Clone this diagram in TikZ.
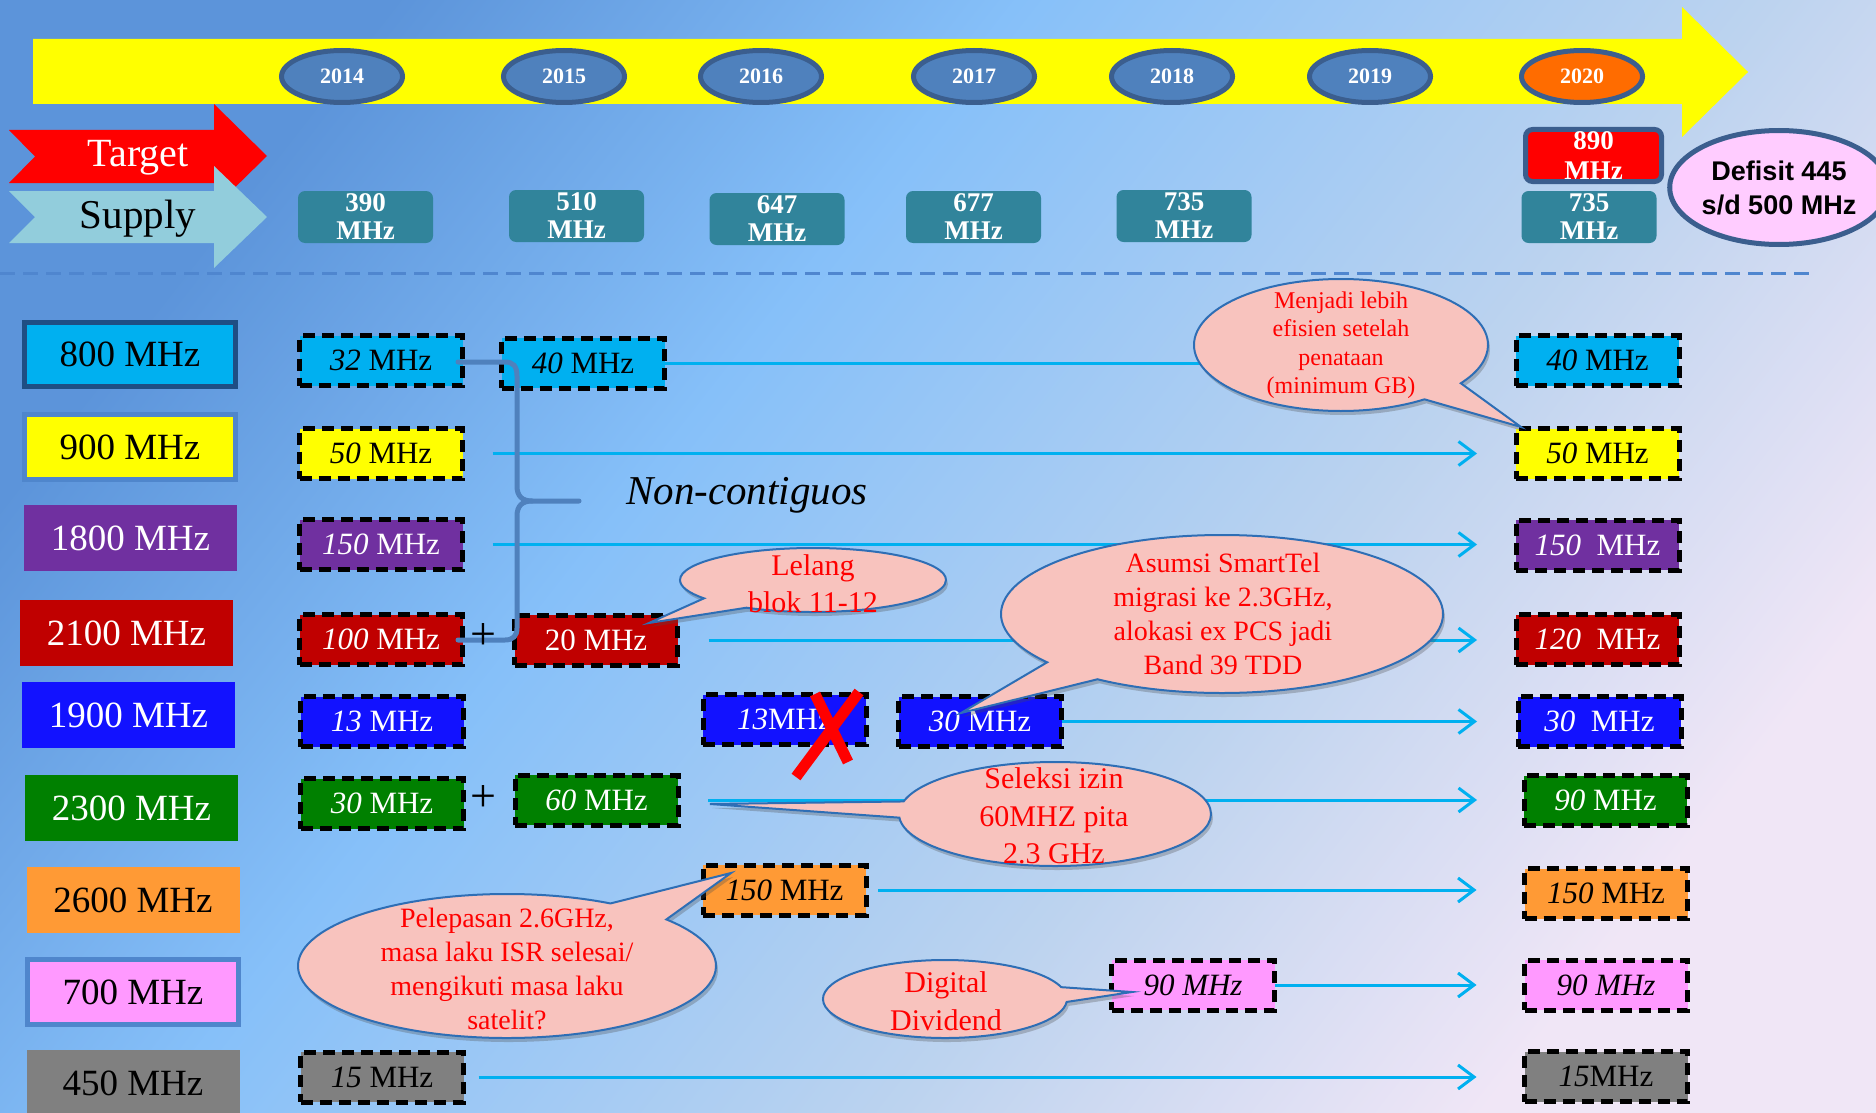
\documentclass[tikz,border=0pt]{standalone}
\usepackage{fontspec}
\setmainfont{Liberation Serif}
\setsansfont{Liberation Sans}
\usetikzlibrary{shapes.geometric,shapes.callouts,arrows.meta,shadows}
\definecolor{cCyan}{HTML}{00B0F0}
\definecolor{cYel}{HTML}{FFFF00}
\definecolor{cPur}{HTML}{7030A0}
\definecolor{cRed}{HTML}{C00000}
\definecolor{cBlue}{HTML}{1212FF}
\definecolor{cGreen}{HTML}{008000}
\definecolor{cOrange}{HTML}{FF9A35}
\definecolor{cPink}{HTML}{FF99FF}
\definecolor{cGray}{HTML}{808080}
\definecolor{tealbox}{HTML}{31849B}
\definecolor{yearfill}{HTML}{4F81BD}
\definecolor{yearedge}{HTML}{3B5E8E}
\definecolor{supplyarr}{HTML}{92CDDC}
\definecolor{callfill}{HTML}{F8C3BE}
\definecolor{calledge}{HTML}{2E6EB5}
\definecolor{bordDark}{HTML}{1F4E84}
\definecolor{bordLight}{HTML}{4F86CC}
\definecolor{braceC}{HTML}{4F81BD}
\definecolor{defFill}{HTML}{FFCCFF}
\definecolor{sepC}{HTML}{4F86CF}
\definecolor{bgA}{HTML}{5C94DA}
\definecolor{bgB}{HTML}{86C0F9}
\definecolor{bgD}{HTML}{BCD3EF}
\definecolor{bgC}{HTML}{F0E6F6}
\pgfdeclarehorizontalshading{bgshade}{100bp}{color(0bp)=(bgA); color(25bp)=(bgA); color(41bp)=(bgB); color(60bp)=(bgD); color(75bp)=(bgC); color(100bp)=(bgC)}
\begin{document}
\begin{tikzpicture}[x=1pt,y=-1pt,
  every node/.style={inner sep=0pt,outer sep=0pt},
  rowlab/.style={rectangle,minimum width=213pt,minimum height=66pt,font=\fontsize{37}{37}\selectfont},
  databox/.style={rectangle,draw=black,line width=5pt,dash pattern=on 12pt off 7pt,minimum width=163pt,minimum height=50pt,font=\fontsize{31}{31}\selectfont},
  dcyan/.style={databox,fill=cCyan,text=black},
  dyel/.style={databox,fill=cYel,text=black},
  dpur/.style={databox,fill=cPur,text=white},
  dred/.style={databox,fill=cRed,text=white},
  dblue/.style={databox,fill=cBlue,text=white},
  dgreen/.style={databox,fill=cGreen,text=white},
  dorange/.style={databox,fill=cOrange,text=black},
  dpink/.style={databox,fill=cPink,text=black},
  dgray/.style={databox,fill=cGray,text=black},
  yearnode/.style={ellipse,fill=yearfill,draw=yearedge,line width=5pt,minimum width=121pt,minimum height=52pt,text=white,font=\bfseries\fontsize{22}{22}\selectfont},
  supplynode/.style={rectangle,rounded corners=7pt,fill=tealbox,minimum width=135pt,minimum height=52pt,text=white,align=center,font=\bfseries\fontsize{27}{28}\selectfont},
  conn/.style={draw=cCyan,line width=3pt,-{Straight Barb[length=16pt,width=24pt]}},
  bubble/.style={ellipse callout,fill=callfill,draw=calledge,line width=2pt,drop shadow={shadow xshift=2pt,shadow yshift=-4pt,opacity=0.3,fill=black!70}},
  bubtext/.style={text=red,align=center},
  bracestyle/.style={draw=braceC,line width=5pt,line cap=round},
  xstroke/.style={draw=red,line width=11pt},
  plusnode/.style={font=\fontsize{46}{46}\selectfont}
]
\path[use as bounding box] (0,0) rectangle (1876,1113);
\clip (0,0) rectangle (1876,1113);
\shade[shading=bgshade,shading angle=-38] (0,0) rectangle (1876,1113);

% timeline arrow
\fill[cYel] (33,39) -- (1682,39) -- (1682,7) -- (1748,72) -- (1682,137) -- (1682,104) -- (33,104) -- cycle;
\node[yearnode] (y2014) at (342,76.5) {2014};
\node[yearnode] (y2015) at (564,76.5) {2015};
\node[yearnode] (y2016) at (761,76.5) {2016};
\node[yearnode] (y2017) at (974,76.5) {2017};
\node[yearnode] (y2018) at (1172,76.5) {2018};
\node[yearnode] (y2019) at (1370,76.5) {2019};
\node[yearnode,fill=orange!85!red] (y2020) at (1582,76.5) {2020};

% target / supply arrows
\fill[red] (9,130) -- (214,130) -- (214,104) -- (267,156) -- (214,208) -- (214,183) -- (9,183) -- (35,156.5) -- cycle;
\fill[supplyarr] (9,191) -- (214,191) -- (214,166) -- (267,217) -- (214,268) -- (214,243) -- (9,243) -- (35,217) -- cycle;
\node[text=white,font=\fontsize{40}{40}\selectfont] (tgt) at (138,158) {Target};
\node[text=black,font=\fontsize{41}{41}\selectfont] (sup) at (138,219) {Supply};

% supply values
\node[supplynode] (s2014) at (365.5,217) {390\\MHz};
\node[supplynode] (s2015) at (576.5,216) {510\\MHz};
\node[supplynode] (s2016) at (777,219) {647\\MHz};
\node[supplynode] (s2017) at (973.5,217) {677\\MHz};
\node[supplynode] (s2018) at (1184,216) {735\\MHz};
\node[supplynode] (s2020) at (1589,217) {735\\MHz};
\node[supplynode,fill=red,draw=yearedge,line width=5pt,minimum width=136pt,minimum height=52pt,font=\bfseries\fontsize{27}{30}\selectfont] (t2020) at (1593.5,155.5) {890\\MHz};
\node[ellipse,fill=defFill,draw=yearedge,line width=5pt,minimum width=193pt,minimum height=114pt,align=center,font=\sffamily\bfseries\fontsize{27}{34}\selectfont] (def) at (1779,187.5) {Defisit 445\\s/d 500 MHz};

% separator
\draw[sepC,line width=3pt,dash pattern=on 15pt off 8pt] (0,273) -- (1811,273);

% row labels
\node[rowlab,fill=cCyan,draw=bordDark,line width=5pt,minimum width=211pt,minimum height=64pt] (L800) at (130,354.5) {800 MHz};
\node[rowlab,fill=cYel,draw=bordLight,line width=5pt,minimum width=211pt,minimum height=65pt] (L900) at (130,447) {900 MHz};
\node[rowlab,fill=cPur,text=white] (L1800) at (130.5,538) {1800 MHz};
\node[rowlab,fill=cRed,text=white] (L2100) at (126.5,633) {2100 MHz};
\node[rowlab,fill=cBlue,text=white] (L1900) at (128.5,715) {1900 MHz};
\node[rowlab,fill=cGreen,text=white] (L2300) at (131.5,808) {2300 MHz};
\node[rowlab,fill=cOrange] (L2600) at (133,900) {2600 MHz};
\node[rowlab,fill=cPink,draw=bordLight,line width=5pt,minimum width=211pt,minimum height=65pt] (L700) at (133,992) {700 MHz};
\node[rowlab,fill=cGray] (L450) at (133,1083) {450 MHz};

% data boxes
\node[dcyan] (a32) at (381,360.5) {\textit{32} MHz};
\node[dyel] (a50) at (381,453.5) {\textit{50} MHz};
\node[dpur] (a150) at (381,544.5) {\textit{150} MHz};
\node[dred] (a100) at (381,639.5) {\textit{100} MHz};
\node[dblue] (a13) at (382,721.5) {\textit{13} MHz};
\node[dgreen] (a30) at (382,803.5) {\textit{30} MHz};
\node[dgray] (a15) at (382,1077) {\textit{15} MHz};
\node[dcyan] (b40) at (583,363) {\textit{40} MHz};
\node[dred] (b20) at (596,640) {20 MHz};
\node[dgreen] (b60) at (596.5,800) {\textit{60} MHz};
\node[dblue] (c13) at (784.5,719.5) {\textit{13}MHz};
\node[dorange] (c150) at (784.5,890) {\textit{150} MHz};
\node[dblue] (d30) at (980,721.5) {\textit{30} MHz};
\node[dpink] (e90) at (1193,985) {\textit{90 MHz}};
\node[dcyan] (r40) at (1597.5,360.5) {\textit{40} MHz};
\node[dyel] (r50) at (1597.5,453.5) {\textit{50} MHz};
\node[dpur] (r150) at (1597.5,545) {\textit{150}\ \ MHz};
\node[dred] (r120) at (1597.5,639.5) {\textit{120}\ \ MHz};
\node[dblue] (r30) at (1599.5,721.5) {\textit{30}\ \ MHz};
\node[dgreen] (r90g) at (1605.5,800.5) {\textit{90} MHz};
\node[dorange] (r150o) at (1606,893.5) {\textit{150} MHz};
\node[dpink] (r90p) at (1606,985) {\textit{90 MHz}};
\node[dgray] (r15) at (1606,1076.5) {\textit{15}MHz};

% connectors
\draw[conn,shorten >=39pt] (b40.east) -- (b40.east -| r40.west);
\draw[conn,shorten <=30pt,shorten >=39pt] (a50.east) -- (a50.east -| r50.west);
\draw[conn,shorten <=30pt,shorten >=39pt] (a150.east) -- (a150.east -| r150.west);
\draw[conn,shorten <=31pt,shorten >=39pt] (b20.east) -- (b20.east -| r120.west);
\draw[conn,shorten >=41pt] (d30.east) -- (d30.east -| r30.west);
\draw[conn,shorten <=30pt,shorten >=47pt] (b60.east) -- (b60.east -| r90g.west);
\draw[conn,shorten <=12pt,shorten >=48pt] (c150.east) -- (c150.east -| r150o.west);
\draw[conn,shorten >=48pt] (e90.east) -- (e90.east -| r90p.west);
\draw[conn,shorten <=15pt,shorten >=48pt] (a15.east) -- (a15.east -| r15.west);

% brace
\draw[bracestyle] (458,362) -- (505,362) .. controls (513,362) and (517,366) .. (517,376) -- (517,486) .. controls (517,496) and (522,501) .. (532,501) -- (579,501);
\draw[bracestyle] (532,501) .. controls (522,501) and (517,506) .. (517,516) -- (517,628) .. controls (517,636) and (513,640) .. (505,640) -- (458,640);
\node[font=\itshape\fontsize{41}{41}\selectfont] (nc) at (747,495) {Non-contiguos};
\node[plusnode] (plus1) at (483,636) {+};
\node[plusnode] (plus2) at (483,798) {+};

% red cross
\draw[xstroke] (859,692) -- (796,777);
\draw[xstroke] (815,694) -- (848,762);

% callouts
\node[bubble,minimum width=294pt,minimum height=132pt,callout absolute pointer={(1521,427)},callout pointer arc=20] (cb1) at (1341,345) {};
\node[bubtext,font=\fontsize{24}{28.5}\selectfont] (tb1) at (cb1.center) {Menjadi lebih\\efisien setelah\\penataan\\(minimum GB)};
\node[bubble,minimum width=266pt,minimum height=64pt,callout absolute pointer={(649,623)},callout pointer arc=25] (cb2) at (813,580) {};
\node[bubtext,font=\fontsize{30}{37}\selectfont] (tb2) at (813,584) {Lelang\\blok 11-12};
\node[bubble,minimum width=442pt,minimum height=158pt,callout absolute pointer={(961,713)},callout pointer arc=18] (cb3) at (1222,614) {};
\node[bubtext,font=\fontsize{28}{34}\selectfont] (tb3) at (1223,614) {Asumsi SmartTel\\migrasi ke 2.3GHz,\\alokasi ex PCS jadi\\Band 39 TDD};
\node[bubble,minimum width=312pt,minimum height=104pt,callout absolute pointer={(710,804)},callout pointer arc=18] (cb4) at (1055,814) {};
\node[bubtext,font=\fontsize{30}{37.5}\selectfont] (tb4) at (1054,816) {Seleksi izin\\60MHZ pita\\2.3 GHz};
\node[bubble,minimum width=418pt,minimum height=144pt,callout absolute pointer={(731,873)},callout pointer arc=20] (cb5) at (507,966) {};
\node[bubtext,font=\fontsize{28}{34}\selectfont] (tb5) at (507,968.5) {Pelepasan 2.6GHz,\\masa laku ISR selesai/\\mengikuti masa laku\\satelit?};
\node[bubble,minimum width=244pt,minimum height=78pt,callout absolute pointer={(1132,992)},callout pointer arc=22] (cb6) at (945,999) {};
\node[bubtext,font=\fontsize{30}{38}\selectfont] (tb6) at (946,1001) {Digital\\Dividend};
\end{tikzpicture}
\end{document}
